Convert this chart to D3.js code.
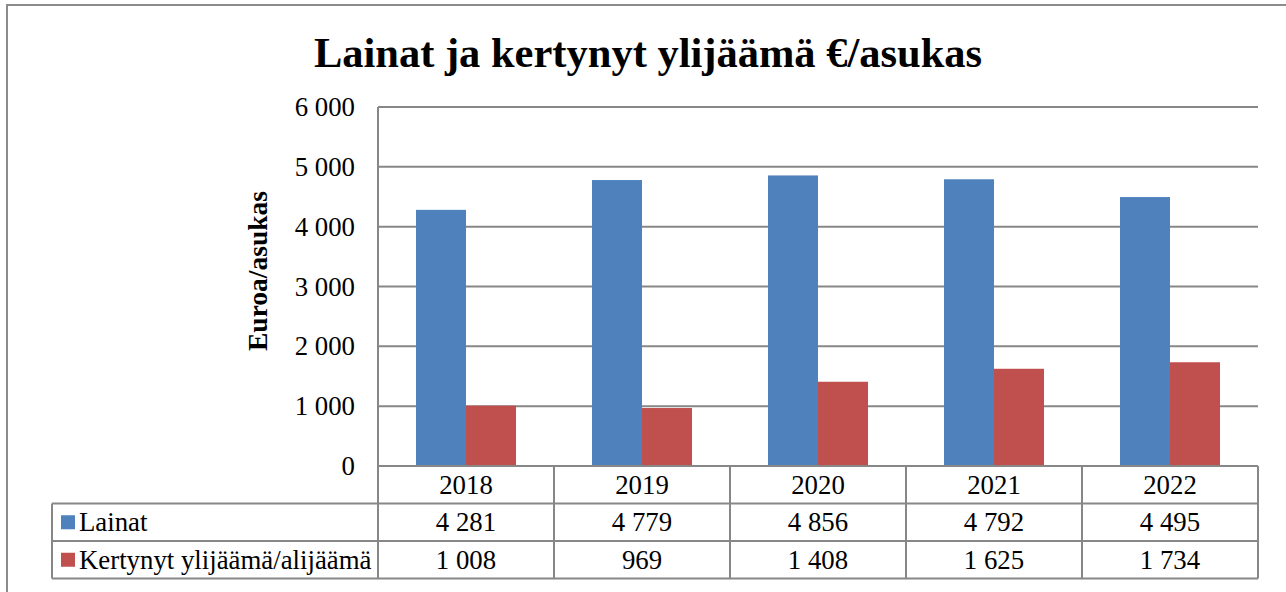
<!DOCTYPE html>
<meta charset="utf-8">
<head>
    <title>Lainat ja kertynyt ylijäämä</title>
    <script src="https://cdn.jsdelivr.net/npm/d3@7"></script>
    <style>
        body { margin: 0; background: white; }
        svg text { font-family: "Liberation Serif", "Times New Roman", serif; fill: #000; }
    </style>
</head>
<body>
    <svg id="svg"></svg>
    <script>
        // data
        const years = ['2018', '2019', '2020', '2021', '2022']
        const lainat = [4281, 4779, 4856, 4792, 4495]
        const ylijaama = [1008, 969, 1408, 1625, 1734]
        const seriesNames = ['Lainat', 'Kertynyt ylijäämä/alijäämä']
        const seriesColors = ['#4f81bd', '#c0504d']
        const yTicks = [0, 1000, 2000, 3000, 4000, 5000, 6000]

        const width = 1286, height = 592
        const svg = d3.select('#svg').attr('width', width).attr('height', height)

        const plotLeft = 378, plotRight = 1258, plotTop = 107, plotBottom = 466
        const tableLeft = 52
        const rowH = 37.5
        const gridColor = '#878787'
        const fontSize = '26.8px'

        // outer frame
        svg.append('rect')
            .attr('x', 7).attr('y', 5)
            .attr('width', 1300).attr('height', 600)
            .attr('fill', 'none').attr('stroke', '#8c8c8c').attr('stroke-width', 2)

        // title
        svg.append('text')
            .attr('x', 648).attr('y', 67)
            .attr('text-anchor', 'middle')
            .style('font-size', '42.5px').style('font-weight', 'bold')
            .text('Lainat ja kertynyt ylijäämä €/asukas')

        const x = d3.scaleBand().domain(years).range([plotLeft, plotRight])
        const xs = d3.scaleBand().domain([0, 1]).range([0, x.bandwidth()]).paddingOuter(0.76).paddingInner(0)
        const y = d3.scaleLinear().domain([0, 6000]).range([plotBottom, plotTop])

        const fmt = n => d3.format(',')(n).replace(/,/g, ' ')

        // gridlines
        svg.append('g').selectAll('line').data(yTicks).enter().append('line')
            .attr('x1', plotLeft).attr('x2', plotRight)
            .attr('y1', d => y(d)).attr('y2', d => y(d))
            .attr('stroke', gridColor).attr('stroke-width', 2)

        // y axis line
        svg.append('line')
            .attr('x1', plotLeft).attr('x2', plotLeft)
            .attr('y1', plotTop).attr('y2', plotBottom)
            .attr('stroke', gridColor).attr('stroke-width', 2)

        // y tick labels
        svg.append('g').selectAll('text').data(yTicks).enter().append('text')
            .attr('x', 355).attr('y', d => y(d) + 9)
            .attr('text-anchor', 'end')
            .style('font-size', fontSize)
            .text(d => fmt(d))

        // y axis title
        svg.append('text')
            .attr('transform', 'translate(267,271) rotate(-90)')
            .attr('text-anchor', 'middle')
            .style('font-size', '27.5px').style('font-weight', 'bold')
            .text('Euroa/asukas')

        // bars
        const series = [lainat, ylijaama]
        series.forEach((vals, si) => {
            svg.append('g').selectAll('rect').data(vals).enter().append('rect')
                .attr('x', (d, i) => x(years[i]) + xs(si))
                .attr('width', xs.bandwidth())
                .attr('y', d => y(d))
                .attr('height', d => y(0) - y(d))
                .attr('fill', seriesColors[si])
        })

        // data table
        const table = svg.append('g')
        const tableBottom = plotBottom + rowH * 3
        table.append('line')
            .attr('x1', plotLeft).attr('x2', plotRight)
            .attr('y1', plotBottom).attr('y2', plotBottom)
        ;[1, 2, 3].forEach(r => {
            table.append('line')
                .attr('x1', tableLeft).attr('x2', plotRight)
                .attr('y1', plotBottom + rowH * r).attr('y2', plotBottom + rowH * r)
        })
        table.append('line')
            .attr('x1', tableLeft).attr('x2', tableLeft)
            .attr('y1', plotBottom + rowH).attr('y2', tableBottom)
        years.forEach(yr => {
            table.append('line')
                .attr('x1', x(yr)).attr('x2', x(yr))
                .attr('y1', plotBottom).attr('y2', tableBottom)
        })
        table.append('line')
            .attr('x1', plotRight).attr('x2', plotRight)
            .attr('y1', plotBottom).attr('y2', tableBottom)
        table.selectAll('line').attr('stroke', gridColor).attr('stroke-width', 2)

        // year header
        table.selectAll('text.year').data(years).enter().append('text')
            .attr('class', 'year')
            .attr('x', d => x(d) + x.bandwidth() / 2)
            .attr('y', plotBottom + rowH / 2 + 9)
            .attr('text-anchor', 'middle')
            .style('font-size', fontSize)
            .text(d => d)

        series.forEach((vals, si) => {
            const rowY = plotBottom + rowH * (si + 1)
            table.append('rect')
                .attr('x', 61).attr('y', rowY + rowH / 2 - 7)
                .attr('width', 14).attr('height', 14)
                .attr('fill', seriesColors[si])
            table.append('text')
                .attr('x', 79).attr('y', rowY + rowH / 2 + 9)
                .style('font-size', fontSize)
                .text(seriesNames[si])
            table.append('g').selectAll('text').data(vals).enter().append('text')
                .attr('x', (d, i) => x(years[i]) + x.bandwidth() / 2)
                .attr('y', rowY + rowH / 2 + 9)
                .attr('text-anchor', 'middle')
                .style('font-size', fontSize)
                .text(d => fmt(d))
        })
    </script>
</body>
</html>
